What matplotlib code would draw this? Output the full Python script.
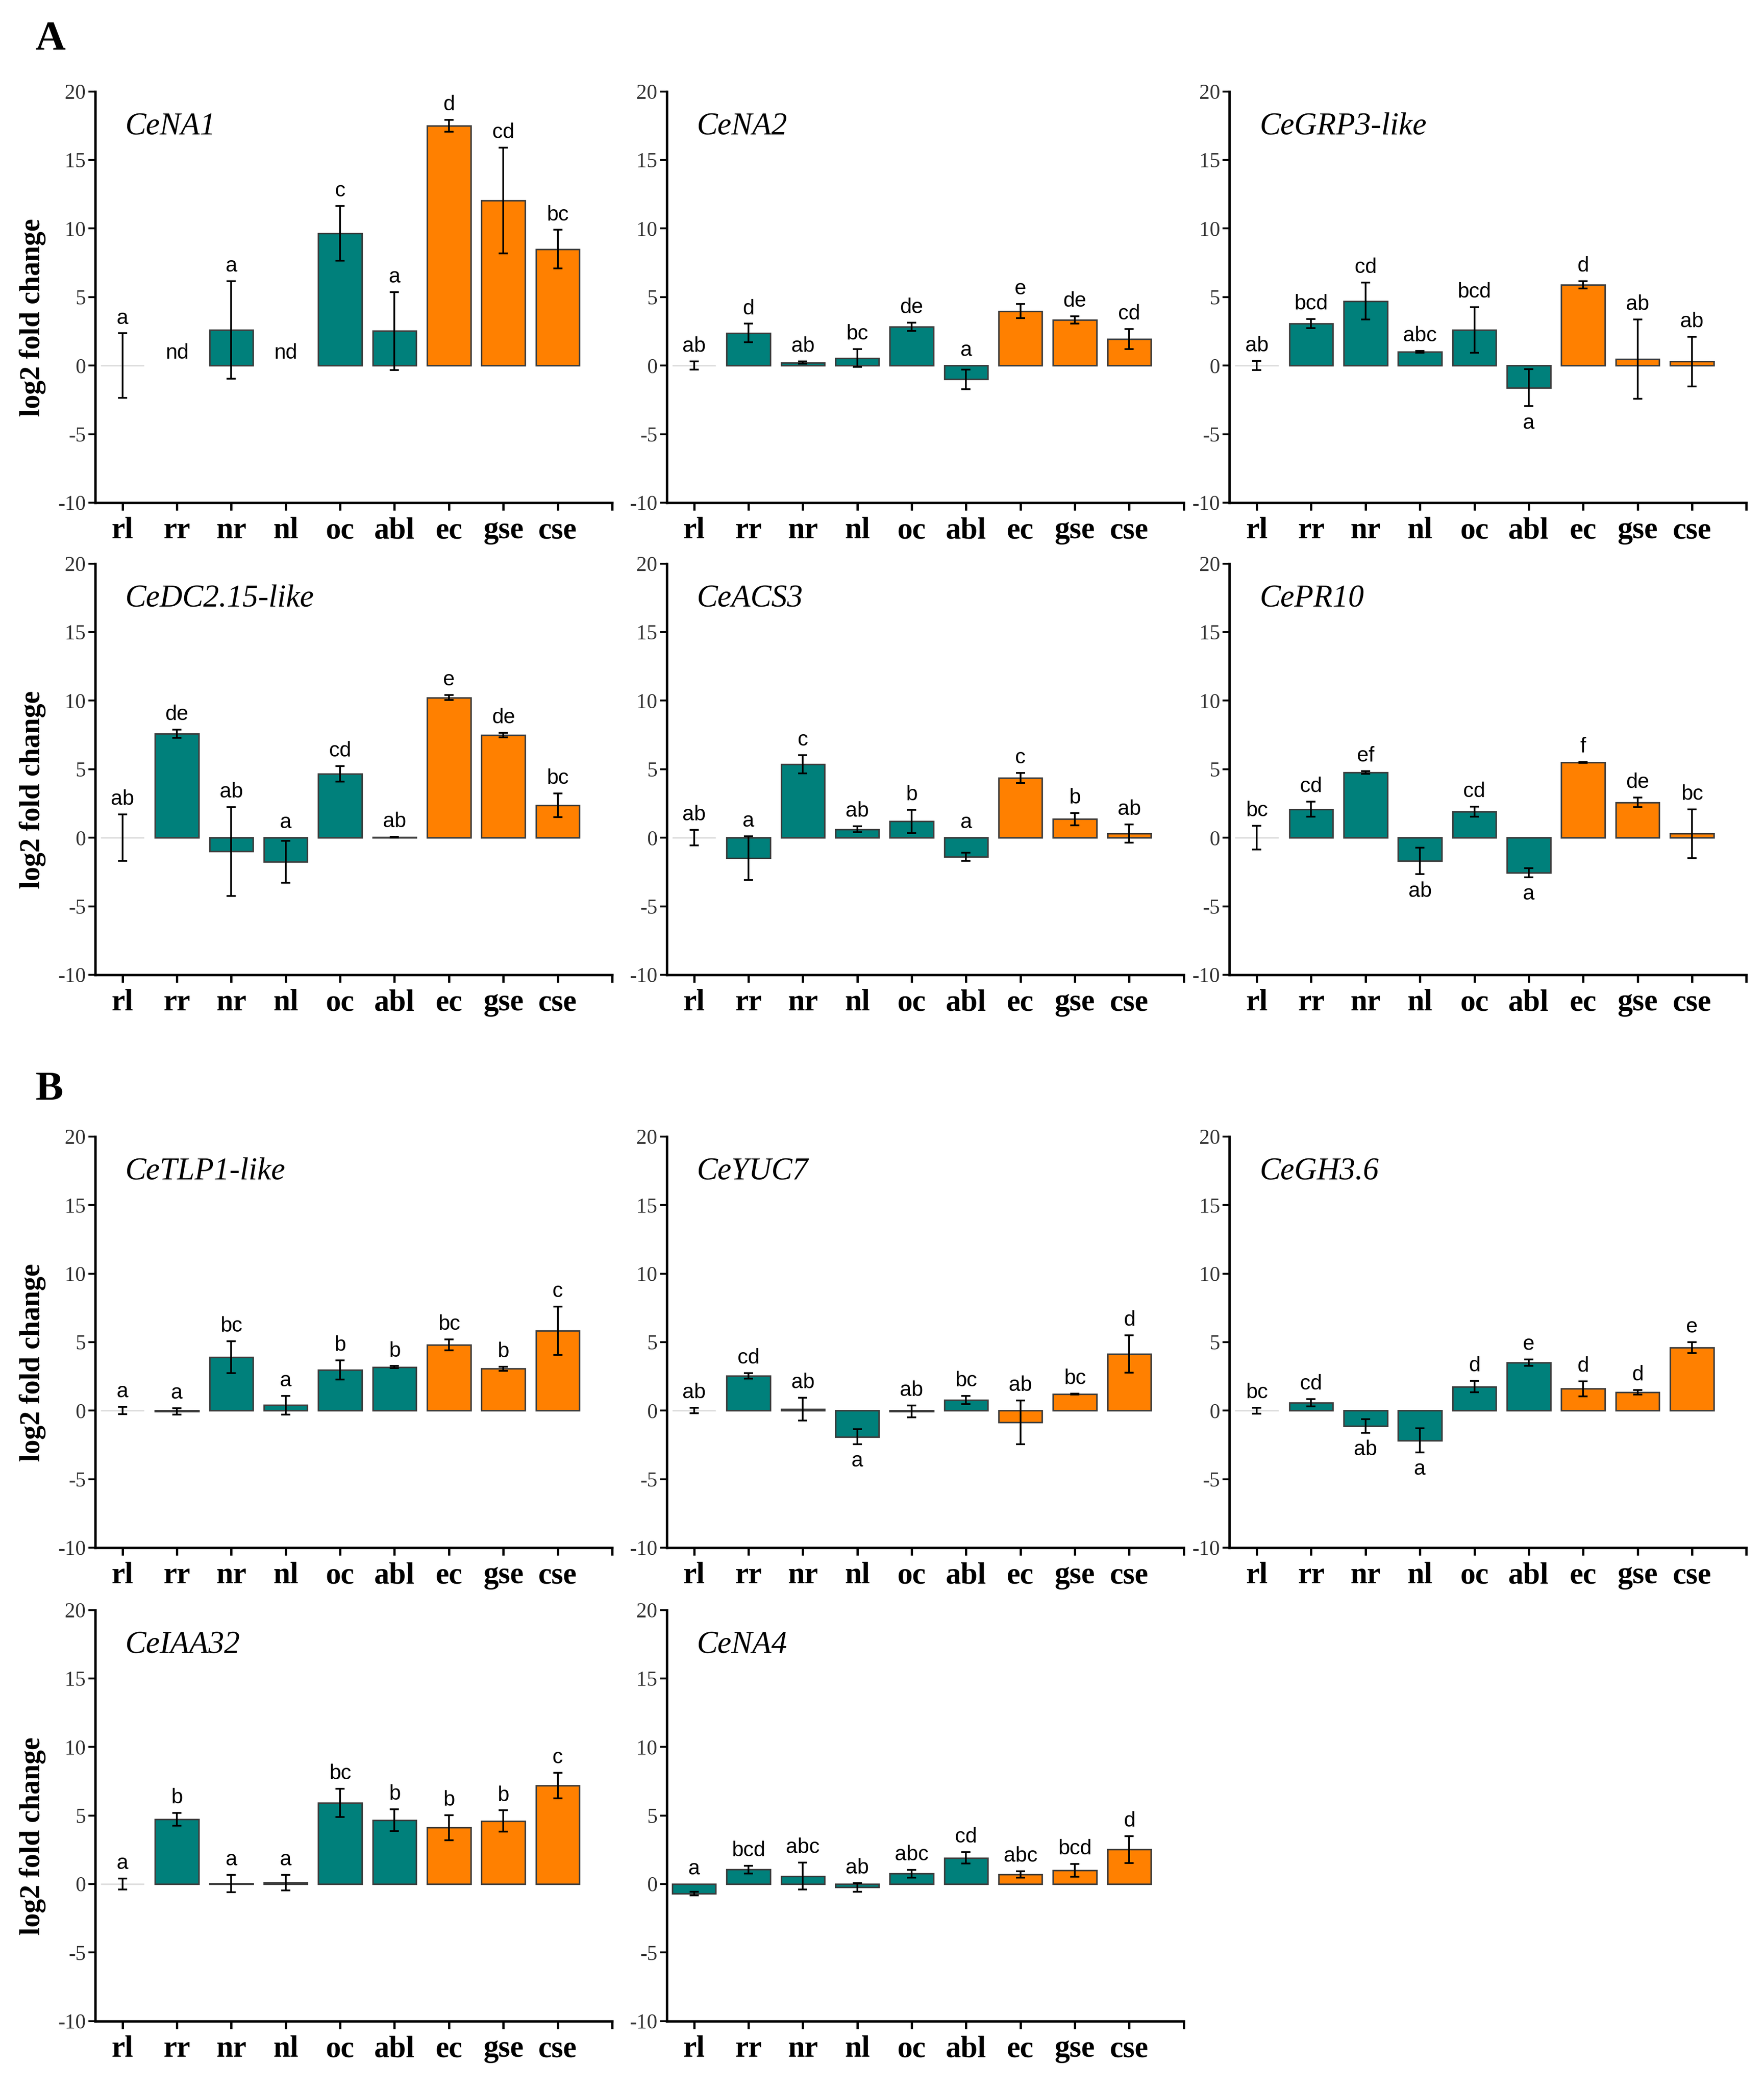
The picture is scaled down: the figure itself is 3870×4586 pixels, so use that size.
import numpy as np
import matplotlib
matplotlib.use("Agg")
import matplotlib.pyplot as plt

plt.rcParams['axes.unicode_minus'] = False

# tissues on the x axis
tissues = ['rl', 'rr', 'nr', 'nl', 'oc', 'abl', 'ec', 'gse', 'cse']
n_teal = 6  # first six are teal, the rest orange

# values (log2 fold change, error, letters)
cena1_mean = [0.0, np.nan, 2.6, np.nan, 9.65, 2.52, 17.5, 12.05, 8.5]
cena1_err = [2.35, 0, 3.55, 0, 2.0, 2.85, 0.42, 3.85, 1.4]
cena1_lbl = ['a', 'nd', 'a', 'nd', 'c', 'a', 'd', 'cd', 'bc']

cena2_mean = [0.0, 2.38, 0.22, 0.55, 2.83, -1.0, 3.97, 3.32, 1.93]
cena2_err = [0.3, 0.67, 0.07, 0.64, 0.3, 0.72, 0.52, 0.27, 0.74]
cena2_lbl = ['ab', 'd', 'ab', 'bc', 'de', 'a', 'e', 'de', 'cd']

cegrp3_mean = [0.0, 3.06, 4.71, 1.0, 2.6, -1.62, 5.9, 0.47, 0.29]
cegrp3_err = [0.33, 0.33, 1.35, 0.08, 1.65, 1.35, 0.27, 2.9, 1.8]
cegrp3_lbl = ['ab', 'bcd', 'cd', 'abc', 'bcd', 'a', 'd', 'ab', 'ab']

cedc215_mean = [0.0, 7.6, -1.0, -1.76, 4.66, 0.05, 10.23, 7.49, 2.37]
cedc215_err = [1.7, 0.3, 3.25, 1.53, 0.56, 0.03, 0.18, 0.18, 0.87]
cedc215_lbl = ['ab', 'de', 'ab', 'a', 'cd', 'ab', 'e', 'de', 'bc']

ceacs3_mean = [0.0, -1.48, 5.36, 0.62, 1.2, -1.39, 4.36, 1.36, 0.3]
ceacs3_err = [0.57, 1.6, 0.68, 0.23, 0.85, 0.3, 0.36, 0.45, 0.67]
ceacs3_lbl = ['ab', 'a', 'c', 'ab', 'b', 'a', 'c', 'b', 'ab']

cepr10_mean = [0.0, 2.08, 4.75, -1.69, 1.9, -2.56, 5.5, 2.58, 0.3]
cepr10_err = [0.87, 0.54, 0.1, 0.98, 0.37, 0.34, 0.03, 0.36, 1.78]
cepr10_lbl = ['bc', 'cd', 'ef', 'ab', 'cd', 'a', 'f', 'de', 'bc']

cetlp1_mean = [0.0, -0.05, 3.9, 0.39, 2.98, 3.17, 4.8, 3.05, 5.83]
cetlp1_err = [0.27, 0.23, 1.15, 0.68, 0.7, 0.08, 0.4, 0.15, 1.77]
cetlp1_lbl = ['a', 'a', 'bc', 'a', 'b', 'b', 'bc', 'b', 'c']

ceyuc7_mean = [0.0, 2.53, 0.12, -1.91, -0.05, 0.78, -0.85, 1.21, 4.13]
ceyuc7_err = [0.2, 0.2, 0.83, 0.54, 0.43, 0.3, 1.6, 0.03, 1.35]
ceyuc7_lbl = ['ab', 'cd', 'ab', 'a', 'ab', 'bc', 'ab', 'bc', 'd']

cegh36_mean = [0.0, 0.57, -1.11, -2.18, 1.75, 3.49, 1.59, 1.34, 4.61]
cegh36_err = [0.22, 0.27, 0.5, 0.88, 0.41, 0.23, 0.55, 0.16, 0.4]
cegh36_lbl = ['bc', 'cd', 'ab', 'a', 'd', 'e', 'd', 'd', 'e']

ceiaa32_mean = [0.0, 4.71, 0.03, 0.1, 5.92, 4.66, 4.11, 4.59, 7.19]
ceiaa32_err = [0.41, 0.47, 0.63, 0.58, 1.03, 0.79, 0.92, 0.78, 0.93]
ceiaa32_lbl = ['a', 'b', 'a', 'a', 'bc', 'b', 'b', 'b', 'c']

cena4_mean = [-0.7, 1.05, 0.58, -0.25, 0.75, 1.91, 0.7, 1.0, 2.52]
cena4_err = [0.14, 0.27, 0.97, 0.31, 0.29, 0.43, 0.22, 0.47, 0.98]
cena4_lbl = ['a', 'bcd', 'abc', 'ab', 'abc', 'cd', 'abc', 'bcd', 'd']

genes = [
    ('CeNA1', cena1_mean, cena1_err, cena1_lbl),
    ('CeNA2', cena2_mean, cena2_err, cena2_lbl),
    ('CeGRP3-like', cegrp3_mean, cegrp3_err, cegrp3_lbl),
    ('CeDC2.15-like', cedc215_mean, cedc215_err, cedc215_lbl),
    ('CeACS3', ceacs3_mean, ceacs3_err, ceacs3_lbl),
    ('CePR10', cepr10_mean, cepr10_err, cepr10_lbl),
    ('CeTLP1-like', cetlp1_mean, cetlp1_err, cetlp1_lbl),
    ('CeYUC7', ceyuc7_mean, ceyuc7_err, ceyuc7_lbl),
    ('CeGH3.6', cegh36_mean, cegh36_err, cegh36_lbl),
    ('CeIAA32', ceiaa32_mean, ceiaa32_err, ceiaa32_lbl),
    ('CeNA4', cena4_mean, cena4_err, cena4_lbl),
]

# letters that sit under the bar instead of above
below = {'CeGRP3-like': [5], 'CePR10': [3, 5], 'CeYUC7': [3], 'CeGH3.6': [2, 3]}

teal = '#00807b'
orange = '#ff8000'
serif = 'Liberation Serif'
sans = 'Liberation Sans'

fig = plt.figure(figsize=(12.9, 15.287), dpi=300)

col_left = [0.054, 0.378, 0.697]
row_bottom = [0.7595, 0.5336, 0.2595, 0.033]
ax_w, ax_h = 0.293, 0.1967

for k, (name, mean, err, lbl) in enumerate(genes):
    row, col = divmod(k, 3)
    ax = fig.add_axes([col_left[col], row_bottom[row], ax_w, ax_h])
    x = np.arange(len(tissues))
    mean = np.array(mean, dtype=float)
    err = np.array(err, dtype=float)
    colors = [teal if i < n_teal else orange for i in range(len(tissues))]
    edges = ['#dddddd' if m == 0 else '#3c3c3c' for m in mean]
    ok = ~np.isnan(mean)
    ax.bar(x[ok], mean[ok], width=0.8, color=np.array(colors)[ok],
           edgecolor=np.array(edges)[ok], linewidth=0.8, zorder=2)
    ax.errorbar(x[ok], mean[ok], yerr=err[ok], fmt='none', ecolor='black',
                elinewidth=0.9, capsize=2.5, capthick=0.9, zorder=3)

    gap = 0.7
    for i in range(len(tissues)):
        if np.isnan(mean[i]):
            ax.text(x[i], 0.5, lbl[i], ha='center', va='baseline',
                    family=sans, fontsize=11)
        elif i in below.get(name, []):
            y = min(mean[i] - err[i], 0) - 0.5
            ax.text(x[i], y, lbl[i], ha='center', va='top',
                    family=sans, fontsize=11)
        else:
            y = max(mean[i] + err[i], 0) + gap
            ax.text(x[i], y, lbl[i], ha='center', va='baseline',
                    family=sans, fontsize=11)

    ax.text(0.05, 17.4, name, ha='left', va='center', family=serif,
            style='italic', fontsize=16.5)

    ax.set_xlim(-0.5, 9.0)
    ax.set_ylim(-10, 20)
    ax.set_yticks(range(-10, 21, 5))
    ax.set_xticks(x)
    ax.set_xticklabels(tissues, family=serif, fontweight='bold', fontsize=16)
    ax.set_xticks([9.0], minor=True)
    for t in ax.get_yticklabels():
        t.set_family(serif)
        t.set_fontsize(11)
        t.set_color('#333333')
    ax.tick_params(axis='x', which='both', direction='out', length=4,
                   width=1.2, pad=3.5)
    ax.tick_params(axis='y', direction='out', length=3.5, width=1.0, pad=1.5)
    for s in ['top', 'right']:
        ax.spines[s].set_visible(False)
    for s in ['left', 'bottom']:
        ax.spines[s].set_linewidth(1.3)

    if col == 0:
        ax.set_ylabel('log2 fold change', family=serif, fontweight='bold',
                      fontsize=15)
        ax.yaxis.set_label_coords(-0.095, 0.45)

fig.text(0.0286, 0.981, 'A', family=serif, fontweight='bold', fontsize=22,
         ha='center', va='center')
fig.text(0.0278, 0.4784, 'B', family=serif, fontweight='bold', fontsize=22,
         ha='center', va='center')

fig.savefig('out.png', dpi=300)
